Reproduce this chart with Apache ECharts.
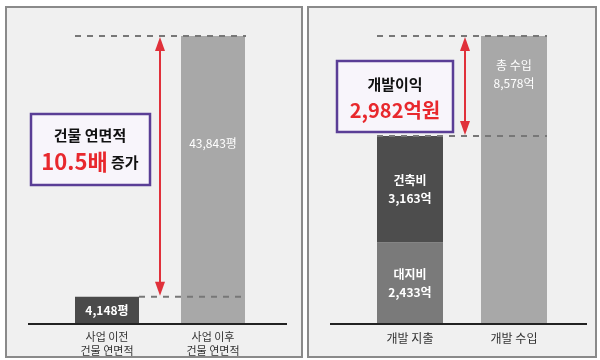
<!DOCTYPE html>
<html><head><meta charset="utf-8">
<script src="https://cdn.jsdelivr.net/npm/echarts/dist/echarts.min.js"></script>
<style>html,body{margin:0;padding:0;background:#fff}#c{width:600px;height:360px}</style>
</head><body><div id="c"></div>
<script>
// ---- data ----
const leftCategories = ['사업 이전\n건물 연면적', '사업 이후\n건물 연면적'];
const leftValues = [4148, 43843];          // 평
const leftUnit = '평';
const rightCategories = ['개발 지출', '개발 수입'];
const landCost = [2433, '-'];              // 대지비 (억)
const buildCost = [3163, '-'];             // 건축비 (억)
const totalIncome = ['-', 8578];           // 총 수입 (억)
const rightUnit = '억';
const leftBoxTitle = '건물 연면적';
const rightBoxTitle = '개발이익';

const FONT = '"Noto Sans CJK KR", "Noto Sans", sans-serif';
const fmt = v => Number(v).toLocaleString('en-US');

const chart = echarts.init(document.getElementById('c'), null, {renderer: 'canvas'});
const lblBase = {color: '#fff', fontFamily: FONT, fontWeight: 'bold', fontSize: 12, lineHeight: 18};

chart.setOption({
  animation: false,
  backgroundColor: '#ffffff',
  grid: [
    {left: 54, width: 212, top: 36, height: 288},
    {left: 358, width: 208, top: 36, height: 288}
  ],
  xAxis: [
    {type: 'category', gridIndex: 0, data: leftCategories,
     axisLine: {show: false}, axisTick: {show: false},
     axisLabel: {color: '#333', fontFamily: FONT, fontSize: 11, lineHeight: 14, margin: 6}},
    {type: 'category', gridIndex: 1, data: rightCategories,
     axisLine: {show: false}, axisTick: {show: false},
     axisLabel: {color: '#333', fontFamily: FONT, fontSize: 12, margin: 8}}
  ],
  yAxis: [
    {type: 'value', gridIndex: 0, min: 0, max: Math.max(...leftValues), show: false, splitLine: {show: false}},
    {type: 'value', gridIndex: 1, min: 0, max: Math.max(...totalIncome.filter(v => v !== '-')), show: false, splitLine: {show: false}}
  ],
  series: [
    {type: 'bar', xAxisIndex: 0, yAxisIndex: 0, barWidth: 64,
     data: [
       {value: leftValues[0], itemStyle: {color: '#4a4a4a'},
        label: Object.assign({show: true, position: 'inside'}, lblBase)},
       {value: leftValues[1], itemStyle: {color: '#a8a8a8'},
        label: Object.assign({show: true, position: ['50%', 107], align: 'center', verticalAlign: 'middle'}, lblBase, {fontWeight: 'normal'})}
     ],
     label: {formatter: p => fmt(p.value) + leftUnit}},
    {type: 'bar', name: '대지비', xAxisIndex: 1, yAxisIndex: 1, stack: 'r', barWidth: 66,
     itemStyle: {color: '#7a7a7a'}, data: landCost,
     label: Object.assign({show: true, position: 'inside', formatter: p => '대지비\n' + fmt(p.value) + rightUnit}, lblBase)},
    {type: 'bar', name: '건축비', xAxisIndex: 1, yAxisIndex: 1, stack: 'r', barWidth: 66,
     itemStyle: {color: '#4d4d4d'}, data: buildCost,
     label: Object.assign({show: true, position: 'inside', formatter: p => '건축비\n' + fmt(p.value) + rightUnit}, lblBase)},
    {type: 'bar', name: '총 수입', xAxisIndex: 1, yAxisIndex: 1, stack: 'r', barWidth: 66,
     itemStyle: {color: '#a8a8a8'}, data: totalIncome,
     label: Object.assign({show: true, position: ['50%', 38], align: 'center', verticalAlign: 'middle',
       formatter: p => '총 수입\n' + fmt(p.value) + rightUnit}, lblBase, {fontWeight: 'normal'})}
  ]
});

// ---- annotations computed through the chart's scales ----
const P = (gi, c, v) => chart.convertToPixel({gridIndex: gi}, [c, v]);
const g = [];
// panels
g.push({type: 'rect', z: -10, shape: {x: 6, y: 7, width: 296, height: 350}, style: {fill: '#f0f0f0', stroke: '#8a8a8a', lineWidth: 2}});
g.push({type: 'rect', z: -10, shape: {x: 308, y: 7, width: 288, height: 350}, style: {fill: '#f0f0f0', stroke: '#8a8a8a', lineWidth: 2}});
// baselines
const y0L = P(0, 0, 0)[1], y0R = P(1, 0, 0)[1];
g.push({type: 'line', z: 60, shape: {x1: 28, y1: y0L, x2: 287, y2: y0L}, style: {stroke: '#222', lineWidth: 2}});
g.push({type: 'line', z: 60, shape: {x1: 330, y1: y0R, x2: 587, y2: y0R}, style: {stroke: '#222', lineWidth: 2}});

const dash = {stroke: '#777', lineWidth: 2, lineDash: [6, 6]};
function arrow(x, yTop, yBot) {
  const c = '#e0303a';
  g.push({type: 'line', z: 70, shape: {x1: x, y1: yTop + 8, x2: x, y2: yBot - 8}, style: {stroke: c, lineWidth: 2}});
  g.push({type: 'polygon', z: 70, shape: {points: [[x, yTop], [x - 5, yTop + 14], [x + 5, yTop + 14]]}, style: {fill: c}});
  g.push({type: 'polygon', z: 70, shape: {points: [[x, yBot], [x - 5, yBot - 14], [x + 5, yBot - 14]]}, style: {fill: c}});
}
// left panel
{
  const a = P(0, 0, leftValues[0]), b = P(0, 1, leftValues[1]);
  const hw = 32;
  g.push({type: 'line', z: 50, shape: {x1: a[0] - hw, y1: b[1], x2: b[0] + hw + 1, y2: b[1]}, style: dash});
  g.push({type: 'line', z: 50, shape: {x1: a[0] + hw, y1: a[1], x2: b[0] + hw + 1, y2: a[1]}, style: dash});
  arrow((a[0] + b[0]) / 2, b[1] + 1, a[1] - 1);
  const ratio = Math.floor(leftValues[1] / leftValues[0] * 10) / 10;
  g.push({type: 'rect', z: 80, shape: {x: 31, y: 114, width: 119, height: 71}, style: {fill: '#f8f5fb', stroke: '#5a3e96', lineWidth: 2.5}});
  g.push({type: 'text', z: 81, x: 90, y: 135, style: {text: leftBoxTitle, font: 'bold 15px ' + FONT, fill: '#111', align: 'center', verticalAlign: 'middle'}});
  g.push({type: 'text', z: 81, x: 90, y: 162, style: {
    text: '{r|' + ratio.toFixed(1) + '배} {b|증가}', align: 'center', verticalAlign: 'middle',
    rich: {r: {font: 'bold 22px ' + FONT, fill: '#e8282d'}, b: {font: 'bold 15px ' + FONT, fill: '#111'}}}});
}
// right panel
{
  const stackTop = landCost[0] + buildCost[0];
  const a = P(1, 0, stackTop), b = P(1, 1, totalIncome[1]);
  const hw = 33;
  g.push({type: 'line', z: 50, shape: {x1: a[0] - hw, y1: b[1], x2: b[0] + hw, y2: b[1]}, style: dash});
  g.push({type: 'line', z: 50, shape: {x1: a[0] - hw, y1: a[1], x2: b[0] + hw, y2: a[1]}, style: dash});
  arrow((a[0] + b[0]) / 2 + 3, b[1] + 1, a[1] - 1);
  const profit = totalIncome[1] - stackTop;
  g.push({type: 'rect', z: 80, shape: {x: 337, y: 61, width: 116, height: 71}, style: {fill: '#f8f5fb', stroke: '#5a3e96', lineWidth: 2.5}});
  g.push({type: 'text', z: 81, x: 395, y: 84, style: {text: rightBoxTitle, font: 'bold 15px ' + FONT, fill: '#111', align: 'center', verticalAlign: 'middle'}});
  g.push({type: 'text', z: 81, x: 395, y: 110, style: {text: fmt(profit) + '억원', font: 'bold 20px ' + FONT, fill: '#e8282d', align: 'center', verticalAlign: 'middle'}});
}
chart.setOption({graphic: g});
</script>
</body></html>
